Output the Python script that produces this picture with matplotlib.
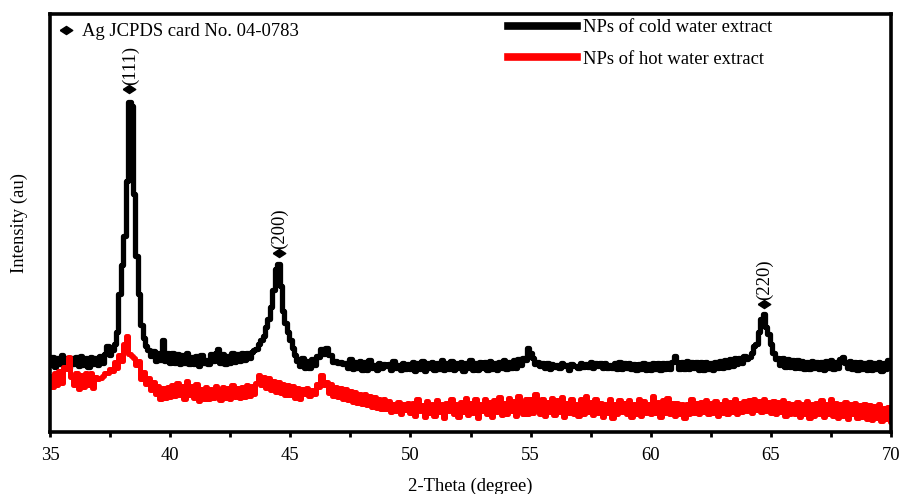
import numpy as np
import matplotlib
matplotlib.use("Agg")
import matplotlib.pyplot as plt
from matplotlib.lines import Line2D

# 字体（Times 风格）
plt.rcParams['font.family'] = ['Liberation Serif', 'DejaVu Serif']
plt.rcParams['font.size'] = 13.4

# 2-Theta 网格：35 到 70 度，步长 0.1
two_theta = np.linspace(35, 70, 351)

# 冷水提取物 NPs（每行 1 度，10 个点）
cold = [
    16.0, 18.0, 15.6, 17.6, 16.2, 18.4, 16.0, 17.6, 15.4, 17.8,
    16.2, 18.0, 15.8, 18.2, 16.0, 17.6, 15.6, 18.0, 16.2, 17.8,
    16.0, 18.2, 16.4, 18.6, 20.5, 18.5, 19.5, 21.0, 24.0, 33.0,
    40.0, 47.0, 60.0, 79.0, 78.0, 57.0, 42.0, 33.0, 25.5, 22.5,
    20.5, 19.5, 18.2, 19.4, 17.0, 19.0, 17.2, 22.0, 17.0, 18.8,
    16.4, 19.0, 16.6, 18.6, 16.2, 18.4, 16.4, 18.8, 16.2, 18.0,
    16.2, 18.2, 15.8, 18.4, 16.4, 17.2, 16.2, 18.6, 17.0, 18.8,
    19.8, 16.6, 18.6, 16.2, 18.2, 16.4, 18.8, 16.8, 18.6, 17.0,
    18.8, 17.2, 19.0, 17.6, 19.2, 19.5, 19.8, 21.0, 22.0, 23.0,
    25.0, 27.0, 30.0, 34.0, 39.0, 40.2, 35.0, 29.0, 26.0, 24.0,
    22.0, 20.0, 18.5, 17.0, 15.8, 17.6, 15.2, 17.0, 15.4, 17.4,
    16.0, 18.2, 18.0, 19.8, 18.6, 20.2, 18.4, 18.4, 16.8, 17.0,
    16.4, 16.8, 16.2, 16.6, 15.2, 17.4, 15.0, 16.8, 15.2, 17.0,
    14.8, 16.8, 14.8, 17.2, 15.2, 16.0, 14.8, 16.4, 15.2, 16.2,
    15.8, 16.2, 14.8, 17.0, 15.4, 16.0, 14.8, 16.6, 15.0, 16.2,
    15.0, 16.8, 14.6, 16.6, 15.0, 17.0, 14.6, 16.6, 15.2, 16.8,
    14.8, 16.4, 15.0, 17.2, 14.8, 16.6, 15.0, 17.0, 14.8, 16.4,
    15.2, 16.8, 14.6, 16.6, 15.2, 17.2, 14.8, 16.4, 14.8, 16.8,
    15.2, 16.8, 14.8, 17.0, 15.0, 16.4, 14.8, 16.8, 15.4, 17.2,
    15.0, 16.8, 15.2, 17.2, 15.4, 17.4, 16.0, 17.8, 17.2, 20.0,
    18.8, 17.8, 16.2, 16.8, 15.8, 16.6, 15.4, 16.6, 15.0, 16.2,
    15.6, 16.0, 15.2, 16.4, 15.8, 16.0, 14.8, 16.2, 15.8, 15.8,
    15.2, 16.4, 15.6, 16.2, 15.6, 16.8, 15.2, 16.6, 15.8, 16.6,
    15.4, 16.6, 15.2, 16.0, 15.4, 16.6, 15.0, 16.8, 15.0, 16.4,
    15.2, 16.6, 15.0, 16.2, 14.8, 16.2, 15.0, 16.4, 14.8, 16.2,
    14.8, 16.4, 15.0, 16.6, 14.8, 16.4, 15.0, 16.6, 15.0, 16.8,
    18.2, 16.8, 15.0, 16.8, 15.0, 17.0, 15.0, 16.8, 15.2, 16.8,
    14.8, 16.8, 14.8, 16.8, 15.0, 16.6, 14.8, 16.8, 15.2, 17.0,
    15.2, 17.2, 15.6, 17.4, 15.8, 17.6, 16.2, 17.8, 16.6, 18.2,
    17.5, 18.0, 19.0, 20.5, 21.0, 24.0, 27.0, 28.3, 25.0, 23.5,
    21.0, 19.0, 17.5, 17.6, 16.0, 17.8, 15.6, 17.4, 15.6, 17.2,
    15.4, 17.2, 15.2, 17.0, 15.0, 16.8, 15.0, 17.0, 15.2, 16.8,
    15.0, 16.8, 14.8, 17.0, 15.2, 17.2, 15.0, 16.8, 15.4, 17.4,
    18.0, 16.4, 15.2, 17.0, 15.0, 16.8, 14.8, 16.8, 15.0, 16.6,
    14.8, 16.8, 14.8, 16.6, 15.0, 16.8, 14.6, 16.4, 15.0, 17.2,
    15.4,
]

# 热水提取物 NPs
hot = [
    13.5, 10.8, 14.2, 11.2, 14.6, 11.8, 15.6, 15.0, 18.0, 13.2,
    11.2, 14.2, 10.4, 13.6, 10.8, 14.0, 11.2, 14.2, 10.6, 13.2,
    12.6, 13.0, 13.4, 14.0, 14.2, 15.0, 14.6, 16.8, 15.4, 18.4,
    17.0, 21.0, 23.0, 18.6, 18.2, 17.6, 16.0, 17.0, 12.6, 14.4,
    11.5, 13.0, 10.0, 12.0, 9.0, 11.0, 8.0, 10.5, 8.2, 10.8,
    8.4, 11.2, 8.6, 11.8, 8.8, 11.0, 8.0, 12.2, 8.8, 11.0,
    8.2, 11.6, 7.4, 10.4, 7.8, 10.8, 8.0, 10.4, 8.2, 11.0,
    8.6, 7.6, 10.8, 8.2, 10.6, 7.8, 11.2, 8.4, 10.6, 8.2,
    10.8, 8.4, 11.2, 8.6, 11.0, 9.0, 11.8, 13.6, 11.2, 13.2,
    10.6, 12.8, 10.0, 12.2, 9.6, 12.0, 9.4, 11.6, 8.8, 11.2,
    8.8, 11.0, 8.2, 10.6, 7.8, 10.2, 9.0, 10.6, 8.6, 10.0,
    9.2, 11.6, 10.8, 13.6, 11.2, 12.0, 9.4, 11.6, 8.6, 10.8,
    8.4, 10.6, 8.0, 10.2, 7.6, 9.8, 7.2, 9.6, 7.0, 9.2,
    6.8, 9.2, 6.4, 8.6, 6.0, 8.4, 5.8, 8.0, 5.4, 7.8,
    5.6, 7.4, 4.8, 6.8, 5.0, 7.2, 4.4, 6.6, 5.2, 7.0,
    4.6, 7.0, 3.8, 7.8, 5.0, 6.4, 3.6, 7.4, 4.6, 6.8,
    3.8, 7.6, 4.8, 6.6, 3.4, 7.0, 5.0, 8.0, 4.2, 6.6,
    3.6, 7.2, 4.8, 8.2, 4.0, 7.0, 4.6, 7.8, 3.4, 6.8,
    5.0, 8.0, 4.2, 7.2, 3.6, 7.6, 4.8, 8.4, 4.0, 7.0,
    4.4, 8.2, 5.0, 7.4, 3.8, 8.6, 5.2, 4.4, 7.8, 4.2,
    8.0, 4.6, 9.0, 5.4, 4.2, 7.8, 3.8, 7.2, 4.8, 8.2,
    4.0, 7.6, 4.8, 8.4, 3.6, 7.0, 4.6, 8.0, 4.2, 6.8,
    3.8, 7.8, 4.4, 8.6, 4.8, 7.2, 4.0, 8.0, 4.6, 7.0,
    3.6, 6.8, 4.6, 7.8, 3.4, 6.6, 4.2, 7.6, 4.8, 7.0,
    4.4, 7.6, 3.6, 6.6, 4.2, 7.8, 3.8, 7.4, 4.6, 6.8,
    4.2, 8.6, 4.6, 7.2, 3.6, 7.6, 4.6, 8.2, 4.4, 7.0,
    3.8, 7.0, 4.4, 6.6, 3.4, 6.8, 4.2, 7.8, 4.6, 7.0,
    4.4, 7.2, 4.8, 7.6, 4.2, 7.0, 4.6, 7.4, 3.8, 6.8,
    4.6, 7.6, 4.2, 7.2, 4.8, 7.8, 4.4, 7.0, 4.8, 7.4,
    5.0, 7.6, 4.6, 7.8, 5.2, 7.4, 4.8, 8.0, 5.0, 7.2,
    4.6, 7.4, 4.2, 7.2, 4.8, 7.6, 3.8, 7.0, 4.4, 6.8,
    4.2, 7.2, 3.6, 6.8, 4.4, 7.4, 3.4, 6.6, 3.8, 7.0,
    4.4, 7.6, 3.6, 6.8, 4.2, 7.8, 3.8, 7.0, 3.4, 6.6,
    3.8, 7.2, 3.2, 6.6, 4.2, 7.0, 3.4, 6.4, 3.6, 6.8,
    3.2, 6.4, 2.8, 6.2, 3.4, 6.6, 2.6, 5.8, 3.0, 6.0,
    2.4,
]

# Ag 标准峰（JCPDS 04-0783）
peak_pos = [38.3, 44.53, 64.71]
peak_mark = [82.0, 42.8, 30.6]
peak_labels = ["(111)", "(200)", "(220)"]

# 创建画布
fig = plt.figure(figsize=(9.01, 4.94), dpi=100)
ax = fig.add_axes([0.0555, 0.1255, 0.9335, 0.8462])

# 绘制曲线（阶梯状，模拟原始扫描数据）
ax.plot(two_theta, cold, color="black", lw=3.8, drawstyle="steps-mid")
ax.plot(two_theta, hot, color="#ff0000", lw=3.6, drawstyle="steps-mid")

# 菱形标记
diamond = [(-1, 0), (0, 0.65), (1, 0), (0, -0.65), (-1, 0)]
ax.plot(peak_pos, peak_mark, ls="none", marker=diamond, ms=9,
        mfc="black", mec="black", zorder=5)
for xp, yp, lab in zip(peak_pos, peak_mark, peak_labels):
    ax.annotate(lab, (xp, yp), xytext=(0.5, 3), textcoords="offset points",
                rotation=90, ha="center", va="bottom")

# 坐标轴范围和刻度
ax.set_xlim(35, 70)
ax.set_ylim(0, 100)
ax.set_xticks(range(35, 71, 5))
ax.set_xticks(np.arange(37.5, 70, 5), minor=True)
ax.set_yticks([])
ax.tick_params(axis="x", which="both", direction="out", length=3.5, width=2, pad=7)
for s in ax.spines.values():
    s.set_linewidth(2.6)

ax.set_xlabel("2-Theta (degree)", labelpad=10)
ax.set_ylabel("Intensity (au)", labelpad=16)

# 图例
h_ag = Line2D([], [], ls="none", marker=diamond, ms=9, mfc="black", mec="black")
leg1 = ax.legend([h_ag], ["Ag JCPDS card No. 04-0783"], loc="upper left",
                 bbox_to_anchor=(0.0087, 0.978), frameon=False, borderpad=0,
                 borderaxespad=0, handlelength=0.95, handletextpad=0.4)
ax.add_artist(leg1)

h_cold = Line2D([], [], color="black", lw=5.5)
h_hot = Line2D([], [], color="#ff0000", lw=5.5)
ax.legend([h_cold, h_hot], ["NPs of cold water extract", "NPs of hot water extract"],
          loc="upper left", bbox_to_anchor=(0.5446, 0.987), frameon=False,
          borderpad=0, borderaxespad=0, handlelength=3.7, handletextpad=0.3,
          labelspacing=0.78)

plt.savefig("out.png", dpi=100)
